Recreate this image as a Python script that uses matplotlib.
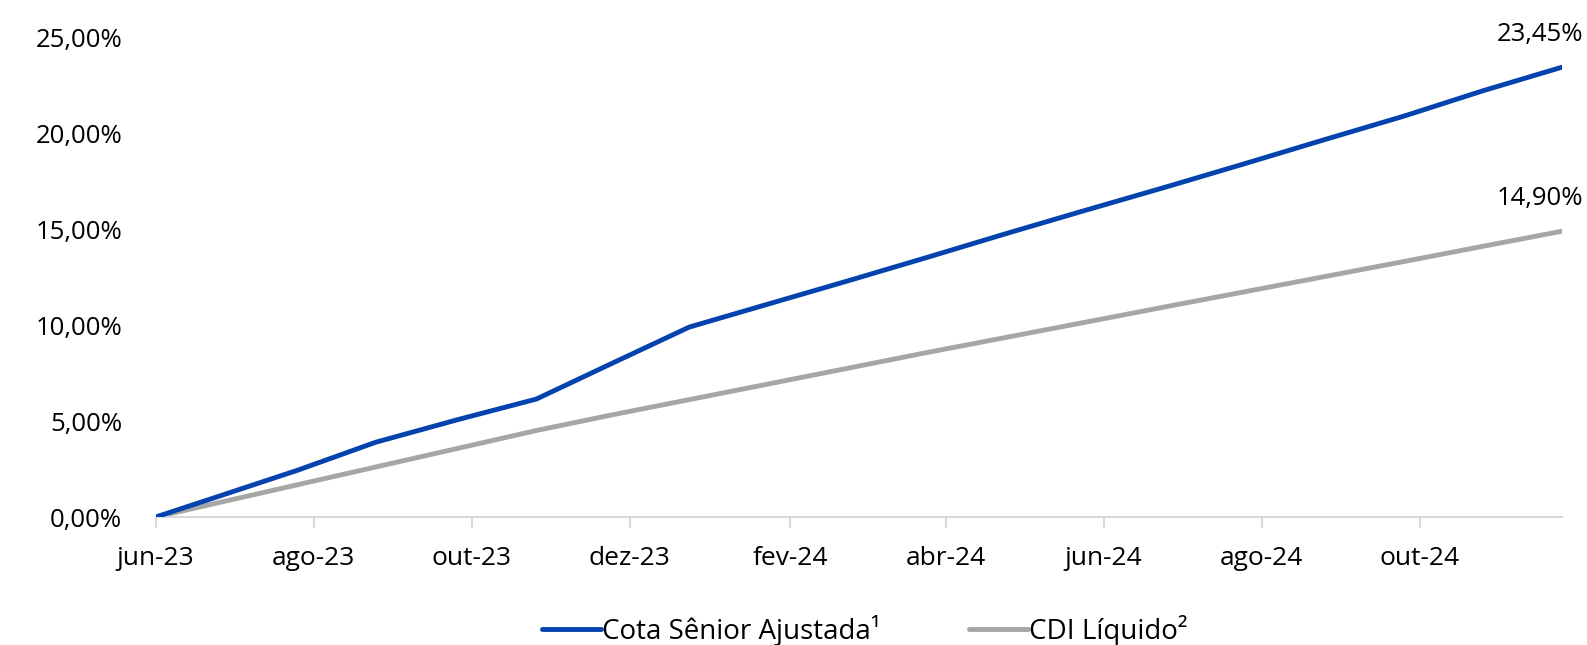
import datetime as dt
import matplotlib
matplotlib.use("Agg")
import matplotlib.pyplot as plt
from matplotlib.ticker import FuncFormatter

plt.rcParams['font.family'] = ['Open Sans', 'DejaVu Sans']

# data (cumulative return, %)
dates = ["2023-06-01", "2023-06-26", "2023-07-26", "2023-08-25", "2023-09-26",
         "2023-10-26", "2023-11-24", "2023-12-24", "2024-01-26", "2024-02-23",
         "2024-03-25", "2024-04-25", "2024-05-24", "2024-06-25", "2024-07-25",
         "2024-08-26", "2024-09-25", "2024-10-25", "2024-11-25"]
cota_senior = [0.0, 1.11, 2.45, 3.90, 5.09, 6.15, 8.00, 9.90, 11.20, 12.30,
               13.54, 14.80, 15.95, 17.20, 18.40, 19.70, 20.90, 22.20, 23.45]
cdi_liquido = [0.0, 0.77, 1.69, 2.61, 3.59, 4.51, 5.32, 6.12, 7.00, 7.75,
               8.58, 9.38, 10.13, 10.96, 11.73, 12.55, 13.32, 14.10, 14.90]
tick_dates = ["2023-06-01", "2023-08-01", "2023-10-01", "2023-12-01", "2024-02-01",
              "2024-04-01", "2024-06-01", "2024-08-01", "2024-10-01"]
tick_labels = ["jun-23", "ago-23", "out-23", "dez-23", "fev-24",
               "abr-24", "jun-24", "ago-24", "out-24"]

x = [dt.datetime.strptime(d, "%Y-%m-%d") for d in dates]
ticks = [dt.datetime.strptime(d, "%Y-%m-%d") for d in tick_dates]

blue = "#0443AE"
gray = "#A6A6A6"

fig = plt.figure(figsize=(15.87, 6.45), dpi=100)
ax = fig.add_axes([0.0981, 0.1984, 0.8862, 0.7436])

ax.plot(x, cota_senior, color=blue, lw=3.5, solid_capstyle="round",
        solid_joinstyle="round", label="Cota Sênior Ajustada¹", zorder=3)
ax.plot(x, cdi_liquido, color=gray, lw=3.5, solid_capstyle="round",
        solid_joinstyle="round", label="CDI Líquido²", zorder=2)

ax.set_xlim(x[0], x[-1])
ax.set_ylim(0, 25)
ax.set_yticks([0, 5, 10, 15, 20, 25])
ax.yaxis.set_major_formatter(FuncFormatter(lambda v, p: f"{v:.2f}%".replace(".", ",")))
ax.set_xticks(ticks)
ax.set_xticklabels(tick_labels)

for s in ["top", "right", "left"]:
    ax.spines[s].set_visible(False)
ax.spines["bottom"].set_color("#D9D9D9")
ax.spines["bottom"].set_linewidth(1.5)
ax.tick_params(axis="y", length=0, pad=24, labelsize=18.5, colors="#000000")
ax.tick_params(axis="x", length=8, width=1.5, color="#D9D9D9", pad=13,
               labelsize=19, colors="#000000")

# end labels
for series in (cota_senior, cdi_liquido):
    ax.annotate(f"{series[-1]:.2f}%".replace(".", ","), xy=(x[-1], series[-1]),
                xytext=(21, 33), textcoords="offset pixels", ha="right",
                va="center", fontsize=18.5, annotation_clip=False)

fig.legend(loc="center", bbox_to_anchor=(0.545, 0.023), ncol=2, frameon=False,
           fontsize=20, handlelength=2.1, handletextpad=0.05, columnspacing=3.2)

fig.savefig("out.png", dpi=100, facecolor="white")
